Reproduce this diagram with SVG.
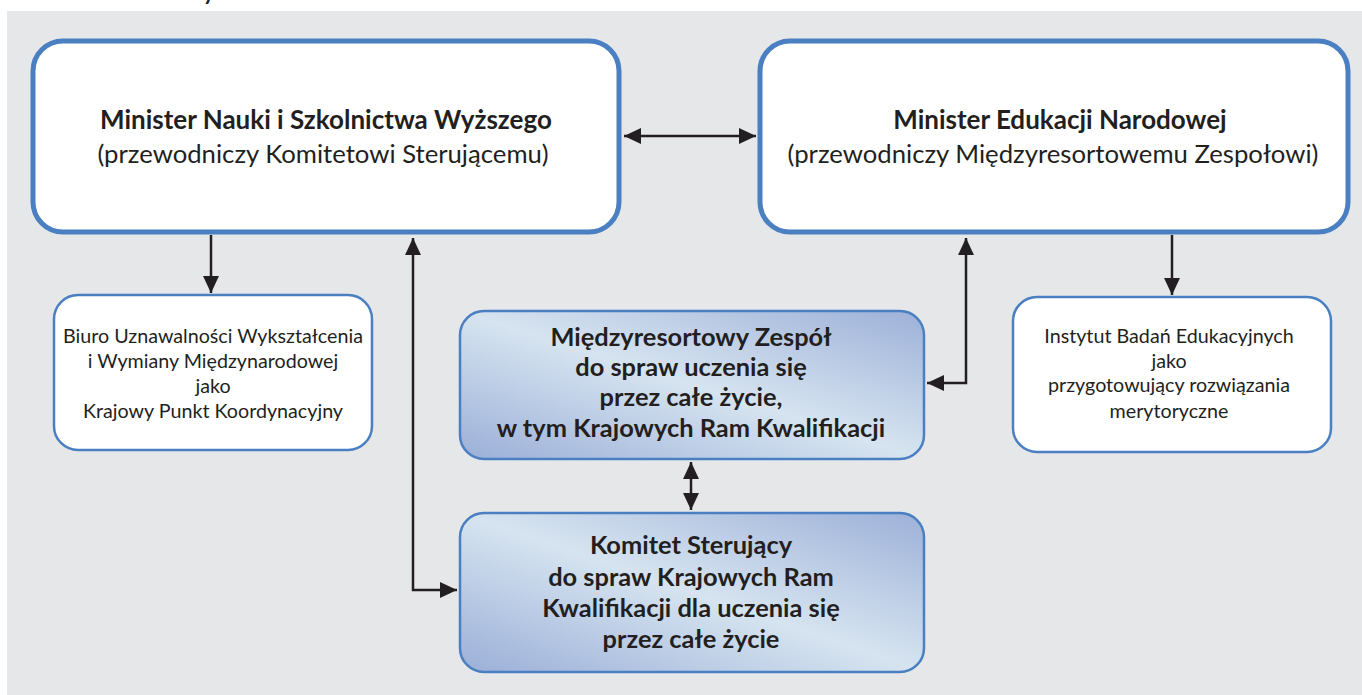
<svg xmlns="http://www.w3.org/2000/svg" width="1362" height="695" viewBox="0 0 1362 695">
  <defs>
    <style>
      .bg { fill: #e6e7e9; }
      .big { fill: #ffffff; stroke: #4a7fc1; stroke-width: 5; }
      .small { fill: #ffffff; stroke: #4a7fc1; stroke-width: 2.5; }
      .grad { fill: url(#blueGrad); stroke: #4a7fc1; stroke-width: 2.5; }
      text { font-family: Lato, "Liberation Sans", "DejaVu Sans", sans-serif; fill: #231f20; text-anchor: middle; }
      .t1b { font-size: 26px; font-weight: bold; }
      .t1 { font-size: 25.7px; }
      .t2 { font-size: 19.7px; }
      .t3b { font-size: 25.4px; font-weight: bold; }
      .conn { fill: none; stroke: #231f20; stroke-width: 2.5; }
    </style>
    <linearGradient id="blueGrad" x1="0" y1="1" x2="1" y2="0">
      <stop offset="0" stop-color="#9bafd8"/>
      <stop offset="0.5" stop-color="#d6e4f0"/>
      <stop offset="1" stop-color="#9db0d8"/>
    </linearGradient>
    <marker id="arr" markerUnits="userSpaceOnUse" markerWidth="19" markerHeight="16" refX="17" refY="8" orient="auto-start-reverse">
      <path d="M0,0 L17,8 L0,16 Z" fill="#231f20"/>
    </marker>
  </defs>

  <rect class="bg" x="7" y="11" width="1355" height="684"/>
  <text x="203" y="0" style="font-size:22px;font-weight:bold;text-anchor:start">y</text>

  <g id="connectors">
    <path class="conn" d="M624,136 H756" marker-start="url(#arr)" marker-end="url(#arr)"/>
    <path class="conn" d="M211,235 V293" marker-end="url(#arr)"/>
    <path class="conn" d="M1172,235 V295" marker-end="url(#arr)"/>
    <path class="conn" d="M413,238 V590 H457" marker-start="url(#arr)" marker-end="url(#arr)"/>
    <path class="conn" d="M966,238 V383 H927" marker-start="url(#arr)" marker-end="url(#arr)"/>
    <path class="conn" d="M691,462 V510" marker-start="url(#arr)" marker-end="url(#arr)"/>
  </g>

  <g id="minister-nauki">
    <rect class="big" x="33" y="41" width="586" height="191" rx="30"/>
    <text class="t1b" x="326" y="129">Minister Nauki i Szkolnictwa Wyższego</text>
    <text class="t1" x="323" y="163">(przewodniczy Komitetowi Sterującemu)</text>
  </g>

  <g id="minister-edukacji">
    <rect class="big" x="760" y="41" width="588" height="191" rx="30"/>
    <text class="t1b" x="1060" y="129">Minister Edukacji Narodowej</text>
    <text class="t1" x="1053" y="163">(przewodniczy Międzyresortowemu Zespołowi)</text>
  </g>

  <g id="biuro">
    <rect class="small" x="54" y="295" width="318" height="155" rx="24"/>
    <text class="t2" x="213" y="343">Biuro Uznawalności Wykształcenia</text>
    <text class="t2" x="213" y="368">i Wymiany Międzynarodowej</text>
    <text class="t2" x="213" y="393">jako</text>
    <text class="t2" x="213" y="418">Krajowy Punkt Koordynacyjny</text>
  </g>

  <g id="instytut">
    <rect class="small" x="1013" y="297" width="318" height="155" rx="24"/>
    <text class="t2" x="1169" y="343">Instytut Badań Edukacyjnych</text>
    <text class="t2" x="1169" y="368">jako</text>
    <text class="t2" x="1169" y="392">przygotowujący rozwiązania</text>
    <text class="t2" x="1169" y="418">merytoryczne</text>
  </g>

  <g id="zespol">
    <rect class="grad" x="460" y="311" width="464" height="148" rx="24"/>
    <text class="t3b" x="691" y="346">Międzyresortowy Zespół</text>
    <text class="t3b" x="691" y="376">do spraw uczenia się</text>
    <text class="t3b" x="691" y="406">przez całe życie,</text>
    <text class="t3b" x="691" y="437">w tym Krajowych Ram Kwalifikacji</text>
  </g>

  <g id="komitet">
    <rect class="grad" x="460" y="513" width="464" height="159" rx="24"/>
    <text class="t3b" x="691" y="554">Komitet Sterujący</text>
    <text class="t3b" x="691" y="586">do spraw Krajowych Ram</text>
    <text class="t3b" x="691" y="617">Kwalifikacji dla uczenia się</text>
    <text class="t3b" x="691" y="648">przez całe życie</text>
  </g>
</svg>
